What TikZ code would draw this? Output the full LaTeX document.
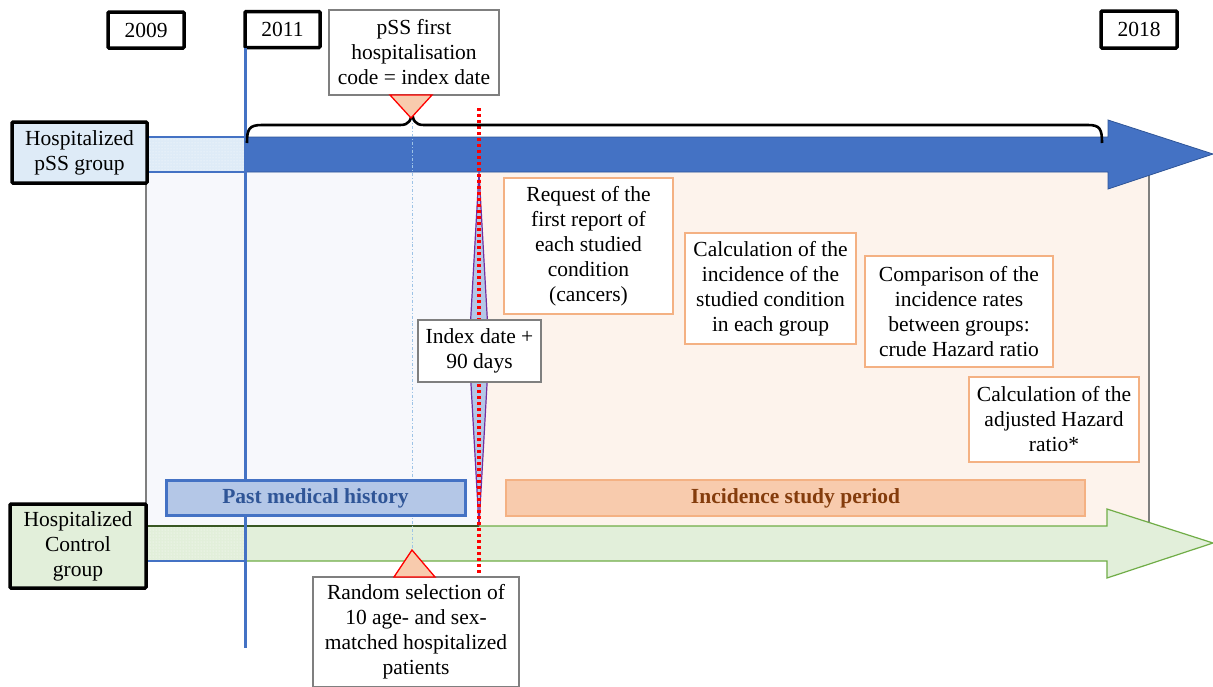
\documentclass[tikz,border=0pt]{standalone}
\usepackage{fontspec}
\setmainfont{Liberation Serif}
\usetikzlibrary{patterns}
\definecolor{mblue}{HTML}{4472C4}
\definecolor{dblue}{HTML}{2F5597}
\definecolor{lblue}{HTML}{DEEBF7}
\definecolor{pblue}{HTML}{B4C7E7}
\definecolor{bgblue}{HTML}{F7F8FC}
\definecolor{bgpeach}{HTML}{FDF3EC}
\definecolor{peach}{HTML}{F8CBAD}
\definecolor{orng}{HTML}{F4B183}
\definecolor{brwn}{HTML}{843C0C}
\definecolor{lgreen}{HTML}{E2EFDA}
\definecolor{mgreen}{HTML}{70AD47}
\definecolor{dgreen}{HTML}{385723}
\definecolor{gry}{HTML}{7F7F7F}
\definecolor{ltblue}{HTML}{9DC3E6}
\definecolor{purp}{HTML}{7030A0}
\newcommand{\fs}{\fontsize{21.5}{25}\selectfont}
\tikzset{
  base/.style={align=center, inner sep=0pt, font=\fs, text=black},
  yearbox/.style={base, draw=black, line width=3.5pt, fill=white, rounded corners=1pt},
  grpbox/.style={base, draw=black, line width=3.5pt, rounded corners=1pt},
  graybox/.style={base, draw=gry, line width=1.3pt, fill=white},
  orbox/.style={base, draw=orng, line width=2.5pt, fill=white},
  pointer/.style={fill=peach, draw=red, line width=1.3pt},
}
\begin{document}
\begin{tikzpicture}[x=1pt,y=-1pt]
\useasboundingbox (0,0) rectangle (1213,686);
\clip (0,0) rectangle (1213,686);
\fill[white] (0,0) rectangle (1213,686);
% background panels
\fill[bgblue] (146,172) rectangle (479,526);
\fill[bgpeach] (479,172) rectangle (1149,526);
\draw[gry, line width=1.2pt] (146,172) -- (146,526);
\draw[gry, line width=1.2pt] (1149,172) -- (1149,526);
% blue arrow
\draw[fill=mblue, draw=dblue, line width=0.8pt] (245,137) -- (1108,137) -- (1108,120) -- (1213,154) -- (1108,189) -- (1108,172) -- (245,172) -- cycle;
\fill[lblue] (146,137) rectangle (245,172);
\fill[pattern=dots, pattern color=white] (146,137) rectangle (245,172);
\draw[mblue, line width=1.2pt] (146,137) -- (245,137) (146,172) -- (245,172);
% green arrow
\draw[fill=lgreen, draw=mgreen, line width=1.2pt] (245,526) -- (1107,526) -- (1107,509) -- (1213,543) -- (1107,578) -- (1107,561) -- (245,561) -- cycle;
\fill[lgreen] (146,526) rectangle (245,561);
\fill[pattern=dots, pattern color=white] (146,526) rectangle (245,561);
\draw[mblue, line width=1.2pt] (146,526) -- (245,526) (146,561) -- (245,561);
\draw[dgreen, line width=1.5pt] (146,526) -- (479,526);
% year boxes
\node[yearbox, minimum width=76pt, minimum height=36pt] (y2009) at (146,30) {2009};
\node[yearbox, minimum width=75pt, minimum height=36pt] (y2011) at (282.5,29.5) {2011};
\node[yearbox, minimum width=76pt, minimum height=37pt] (y2018) at (1139,29.5) {2018};
% vertical lines
\coordinate (bluetop) at (245,48);
\coordinate (blueend) at (245,648);
\draw[mblue, line width=3pt] (bluetop) -- (blueend);
\coordinate (dtop) at (412,118);
\coordinate (dbot) at (412,550);
\draw[ltblue, line width=0.9pt, dash dot] (dtop) -- (dbot);
% diamond
\coordinate (dmtop) at (479,172);
\coordinate (dmbot) at (479,526);
\draw[fill=pblue, draw=purp, line width=1.2pt] (dmtop) -- (489,349) -- (dmbot) -- (469,349) -- cycle;
\coordinate (rtop) at (479,108);
\coordinate (rbot) at (479,573);
\draw[red, line width=3.5pt, dash pattern=on 3pt off 3pt] (rtop) -- (rbot);
% brace
\draw[black, line width=2.6pt] (247,143) .. controls (247,129) and (249,125) .. (262,125) -- (400,125) .. controls (409,125) and (412,121) .. (412,107) .. controls (412,121) and (415,125) .. (424,125) -- (1088,125) .. controls (1100,125) and (1102,129) .. (1102,143);
% top note
\node[graybox, minimum width=170pt, minimum height=85pt] (pssfirst) at (414,52.5) {pSS first\\hospitalisation\\code = index date};
\draw[pointer] (390,95) -- (432,95) -- (411,118) -- cycle;
% group boxes
\node[grpbox, fill=lblue, minimum width=135pt, minimum height=61pt] (pssgrp) at (79.5,152.5) {Hospitalized\\pSS group};
\node[grpbox, fill=lgreen, minimum width=136pt, minimum height=84pt] (ctrl) at (78,546) {Hospitalized\\Control\\group};
% index date box
\node[graybox, minimum width=123pt, minimum height=62pt] (index) at (479.5,351) {Index date +\\90 days};
% orange boxes
\node[orbox, minimum width=169pt, minimum height=136pt] (request) at (588.5,246) {Request of the\\first report of\\each studied\\condition\\(cancers)};
\node[orbox, minimum width=171pt, minimum height=111pt] (calc) at (770.5,288.5) {Calculation of the\\incidence of the\\studied condition\\in each group};
\node[orbox, minimum width=188pt, minimum height=111pt] (compar) at (959,311.5) {Comparison of the\\incidence rates\\between groups:\\crude Hazard ratio};
\node[orbox, minimum width=170pt, minimum height=85pt] (adj) at (1054,419.5) {Calculation of the\\adjusted Hazard\\ratio*};
% period bars
\node[base, draw=mblue, line width=3pt, fill=pblue, text=dblue, font=\fs\bfseries, minimum width=299pt, minimum height=35pt] (pmh) at (315.5,498) {Past medical history};
\node[base, draw=orng, line width=2pt, fill=peach, text=brwn, font=\fs\bfseries, minimum width=579pt, minimum height=36pt] (isp) at (795.5,498) {Incidence study period};
% bottom note
\node[graybox, minimum width=206pt, minimum height=110pt] (random) at (416,632) {Random selection of\\10 age- and sex-\\matched hospitalized\\patients};
\draw[pointer] (394,577) -- (435,577) -- (412,550) -- cycle;
\end{tikzpicture}
\end{document}
